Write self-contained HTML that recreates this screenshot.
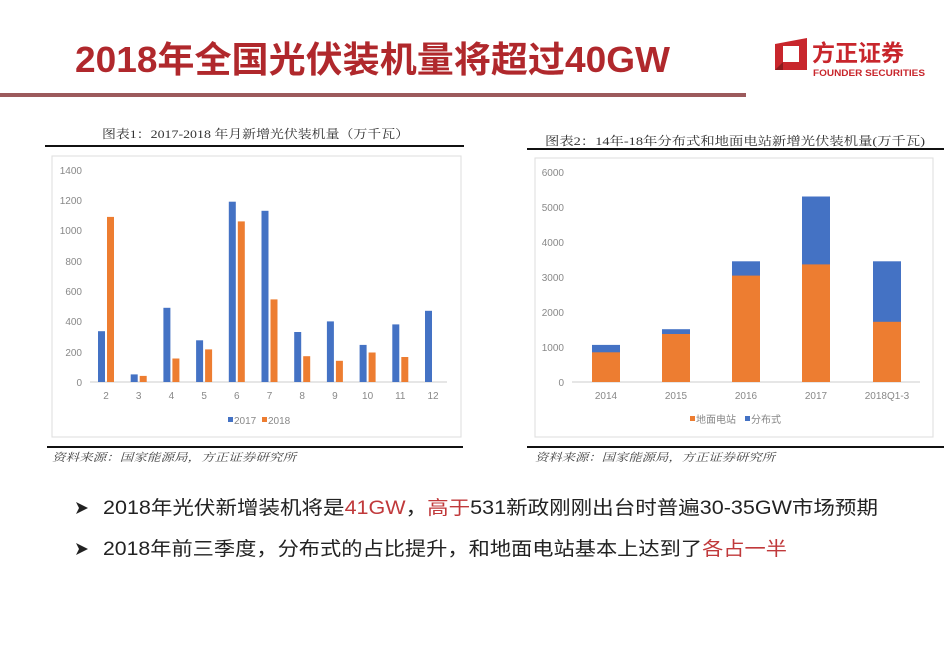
<!DOCTYPE html>
<html><head><meta charset="utf-8"><style>
html,body{margin:0;padding:0;background:#fff;}
svg{display:block;font-family:"Liberation Sans","Noto Sans CJK SC",sans-serif;}
.ser{font-family:"Liberation Serif","Noto Serif CJK SC",serif;}
</style></head><body>
<svg width="944" height="655" viewBox="0 0 944 655" xmlns="http://www.w3.org/2000/svg">
<rect width="944" height="655" fill="#fff"/>
<!-- Title -->
<text x="75" y="72" font-size="36" font-weight="bold" fill="#b0282c" font-family="Liberation Sans, Noto Sans CJK SC, sans-serif" textLength="595" lengthAdjust="spacingAndGlyphs">2018年全国光伏装机量将超过40GW</text>
<rect x="0" y="93" width="746" height="4" fill="#9c5a5c"/>
<!-- Logo -->
<polygon points="775,44 807,38 807,70 775,70" fill="#c8262c"/>
<rect x="783" y="46" width="16" height="16" fill="#fff"/>
<polygon points="775,70 783,62 783,70" fill="#8c1a1e"/>
<text x="812" y="61" font-size="23" font-weight="bold" fill="#c8262c">方正证券</text>
<text x="813" y="76" font-size="9.5" font-weight="bold" fill="#c8262c" textLength="112" lengthAdjust="spacingAndGlyphs">FOUNDER SECURITIES</text>

<!-- Chart 1 title -->
<text class="ser" x="102" y="138" font-size="12" fill="#333" textLength="307" lengthAdjust="spacingAndGlyphs">图表1：2017-2018 年月新增光伏装机量（万千瓦）</text>
<rect x="45" y="145" width="419" height="2" fill="#111"/>
<rect x="52" y="156" width="409" height="281" fill="#fff" stroke="#ddd"/>
<g font-size="10" fill="#888" text-anchor="end">
<text x="82" y="386">0</text><text x="82" y="356">200</text><text x="82" y="325">400</text><text x="82" y="295">600</text><text x="82" y="265">800</text><text x="82" y="234">1000</text><text x="82" y="204">1200</text><text x="82" y="174">1400</text>
</g>
<line x1="90" y1="382" x2="447" y2="382" stroke="#ccc"/>
<g fill="#4472c4">
<rect x="98" y="331.2" width="7" height="50.8"/>
<rect x="130.7" y="374.4" width="7" height="7.6"/>
<rect x="163.4" y="307.8" width="7" height="74.2"/>
<rect x="196.1" y="340.3" width="7" height="41.7"/>
<rect x="228.8" y="201.7" width="7" height="180.3"/>
<rect x="261.5" y="210.8" width="7" height="171.2"/>
<rect x="294.2" y="332" width="7" height="50"/>
<rect x="326.9" y="321.4" width="7" height="60.6"/>
<rect x="359.6" y="344.9" width="7" height="37.1"/>
<rect x="392.3" y="324.4" width="7" height="57.6"/>
<rect x="425" y="310.8" width="7" height="71.2"/>
</g>
<g fill="#ed7d31">
<rect x="107" y="216.9" width="7" height="165.1"/>
<rect x="139.7" y="375.9" width="7" height="6.1"/>
<rect x="172.4" y="358.5" width="7" height="23.5"/>
<rect x="205.1" y="349.4" width="7" height="32.6"/>
<rect x="237.8" y="221.4" width="7" height="160.6"/>
<rect x="270.5" y="299.4" width="7" height="82.6"/>
<rect x="303.2" y="356.2" width="7" height="25.8"/>
<rect x="335.9" y="360.8" width="7" height="21.2"/>
<rect x="368.6" y="352.5" width="7" height="29.5"/>
<rect x="401.3" y="357" width="7" height="25"/>
</g>
<g font-size="10" fill="#888" text-anchor="middle">
<text x="106" y="399">2</text><text x="138.7" y="399">3</text><text x="171.4" y="399">4</text><text x="204.1" y="399">5</text><text x="236.8" y="399">6</text><text x="269.5" y="399">7</text><text x="302.2" y="399">8</text><text x="334.9" y="399">9</text><text x="367.6" y="399">10</text><text x="400.3" y="399">11</text><text x="433" y="399">12</text>
</g>
<rect x="228" y="417" width="5" height="5" fill="#4472c4"/><text x="234" y="424" font-size="10" fill="#888">2017</text>
<rect x="262" y="417" width="5" height="5" fill="#ed7d31"/><text x="268" y="424" font-size="10" fill="#888">2018</text>
<rect x="47" y="446" width="416" height="2" fill="#111"/>
<text class="ser" x="52" y="461" font-size="11" font-style="italic" fill="#444" textLength="244" lengthAdjust="spacingAndGlyphs">资料来源：国家能源局，方正证券研究所</text>

<!-- Chart 2 -->
<text class="ser" x="545" y="145" font-size="12" fill="#333" textLength="380" lengthAdjust="spacingAndGlyphs">图表2：14年-18年分布式和地面电站新增光伏装机量(万千瓦)</text>
<rect x="527" y="148" width="417" height="2" fill="#111"/>
<rect x="535" y="158" width="398" height="279" fill="#fff" stroke="#ddd"/>
<g font-size="10" fill="#888" text-anchor="end">
<text x="564" y="386">0</text><text x="564" y="351">1000</text><text x="564" y="316">2000</text><text x="564" y="281">3000</text><text x="564" y="246">4000</text><text x="564" y="211">5000</text><text x="564" y="176">6000</text>
</g>
<line x1="572" y1="382" x2="920" y2="382" stroke="#ccc"/>
<g fill="#4472c4">
<rect x="592" y="344.9" width="28" height="37.1"/>
<rect x="662" y="329.2" width="28" height="52.8"/>
<rect x="732" y="261.3" width="28" height="120.7"/>
<rect x="802" y="196.5" width="28" height="185.5"/>
<rect x="873" y="261.3" width="28" height="120.7"/>
</g>
<g fill="#ed7d31">
<rect x="592" y="352.3" width="28" height="29.7"/>
<rect x="662" y="334" width="28" height="48"/>
<rect x="732" y="275.6" width="28" height="106.4"/>
<rect x="802" y="264.4" width="28" height="117.6"/>
<rect x="873" y="321.8" width="28" height="60.2"/>
</g>
<g font-size="10" fill="#888" text-anchor="middle">
<text x="606" y="399">2014</text><text x="676" y="399">2015</text><text x="746" y="399">2016</text><text x="816" y="399">2017</text><text x="887" y="399">2018Q1-3</text>
</g>
<rect x="690" y="416" width="5" height="5" fill="#ed7d31"/><text x="696" y="423" font-size="10" fill="#888">地面电站</text>
<rect x="745" y="416" width="5" height="5" fill="#4472c4"/><text x="751" y="423" font-size="10" fill="#888">分布式</text>
<rect x="527" y="446" width="417" height="2" fill="#111"/>
<text class="ser" x="535" y="461" font-size="11" font-style="italic" fill="#444" textLength="240" lengthAdjust="spacingAndGlyphs">资料来源：国家能源局，方正证券研究所</text>

<!-- Bullets -->
<polygon points="76,502 88,508 76,514 79,508" fill="#222"/>
<text x="103" y="514" font-size="19" fill="#222" textLength="775" lengthAdjust="spacingAndGlyphs">2018年光伏新增装机将是<tspan fill="#c0393b">41GW</tspan>，<tspan fill="#c0393b">高于</tspan>531新政刚刚出台时普遍30-35GW市场预期</text>
<polygon points="76,543 88,549 76,555 79,549" fill="#222"/>
<text x="103" y="555" font-size="19" fill="#222" textLength="684" lengthAdjust="spacingAndGlyphs">2018年前三季度，分布式的占比提升，和地面电站基本上达到了<tspan fill="#c0393b">各占一半</tspan></text>
</svg>
</body></html>
